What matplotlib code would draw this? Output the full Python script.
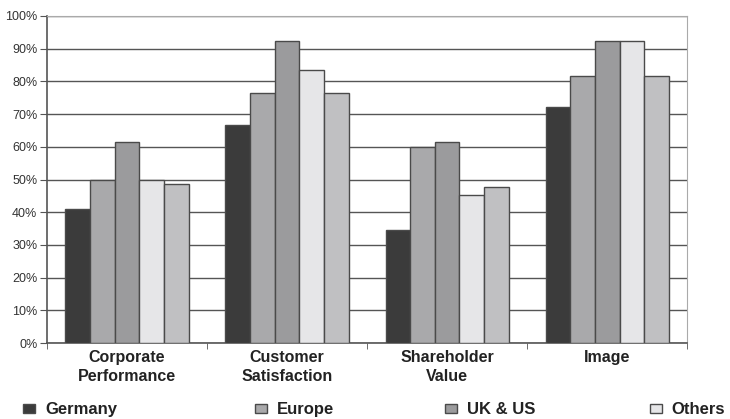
import matplotlib
matplotlib.use("Agg")
import matplotlib.pyplot as plt
import numpy as np

categories = ["Corporate\nPerformance", "Customer\nSatisfaction", "Shareholder\nValue", "Image"]
series_names = ["Germany", "Europe", "UK & US", "Others", "Total"]
germany = [41, 66.7, 34.6, 72.2]
europe = [50, 76.5, 60, 81.7]
ukus = [61.5, 92.4, 61.5, 92.2]
others = [50, 83.5, 45.3, 92.2]
total = [48.6, 76.5, 47.8, 81.7]
series = [germany, europe, ukus, others, total]
colors = ["#3b3b3b", "#a9a9ab", "#9b9b9d", "#e6e6e8", "#c0c0c2"]
yticks = list(range(0, 101, 10))

plt.rcParams['font.family'] = ['Liberation Sans', 'DejaVu Sans']
fig = plt.figure(figsize=(7.3, 4.19), dpi=100)
ax = fig.add_axes([0.0644, 0.181, 0.877, 0.781])

n = len(series)
bw = 0.77 / n
x = np.arange(len(categories))
handles = []
for i, (vals, c, name) in enumerate(zip(series, colors, series_names)):
    b = ax.bar(x - 0.385 + bw * (i + 0.5), vals, width=bw, color=c, edgecolor="#4a4a4a",
               linewidth=1.0, label=name, zorder=3)
    handles.append(b)

ax.set_xlim(-0.5, len(categories) - 0.5)
ax.set_ylim(0, 100)
ax.set_yticks(yticks)
ax.set_yticklabels([f"{t}%" for t in yticks], fontsize=9, color="#333333")
ax.yaxis.grid(True, color="#555555", linewidth=1.0, zorder=0)
ax.set_axisbelow(True)

ax.set_xticks(x)
ax.set_xticklabels(categories, fontsize=11.5, fontweight="bold", color="#222222", linespacing=1.35)
ax.tick_params(axis="x", length=0, pad=5)
ax.set_xticks(np.arange(len(categories) + 1) - 0.5, minor=True)
ax.tick_params(axis="x", which="minor", length=4, color="#555555", direction="out")
ax.tick_params(axis="y", length=5, color="#555555", direction="out", pad=2)

ax.spines["left"].set_color("#555555")
ax.spines["left"].set_linewidth(1.2)
ax.spines["bottom"].set_color("#555555")
ax.spines["bottom"].set_linewidth(1.2)
ax.spines["top"].set_color("#aaaaaa")
ax.spines["right"].set_color("#aaaaaa")

# legend entries (the fifth one is cut off in the reference)
leg_x = [0.0315, 0.349, 0.610, 0.890]
for h, name, lx in zip(handles[:4], series_names[:4], leg_x):
    leg = fig.legend([h], [name], loc="center left", bbox_to_anchor=(lx, 0.022), frameon=False,
                     prop={"weight": "bold", "size": 12}, handlelength=0.72, handleheight=0.4,
                     handletextpad=0.6, borderaxespad=0, borderpad=0)
    for t in leg.get_texts():
        t.set_color("#222222")

fig.savefig("out.png", dpi=100)
